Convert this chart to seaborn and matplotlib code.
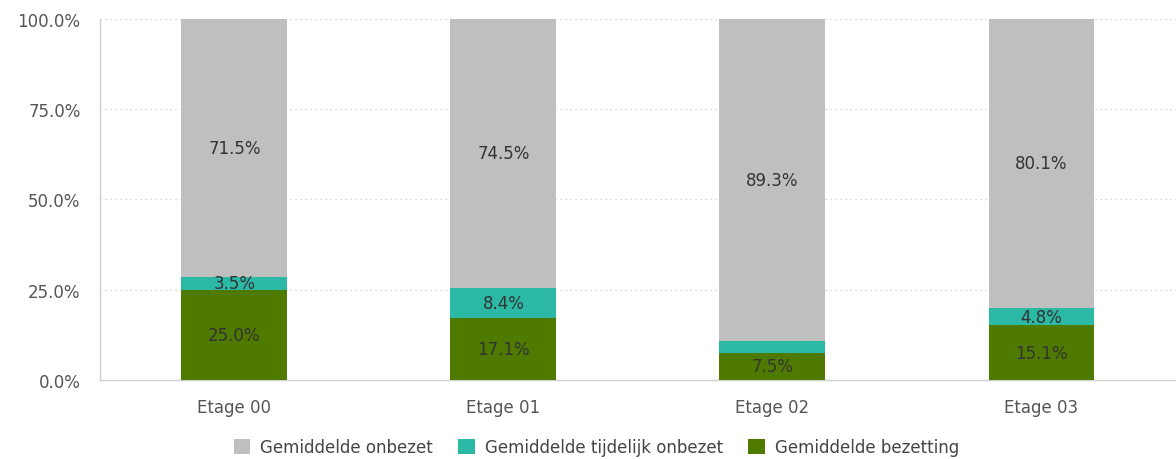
import numpy as np
import pandas as pd
import matplotlib
matplotlib.use("Agg")
import matplotlib.pyplot as plt
import seaborn as sns
from matplotlib.patches import Patch
from matplotlib.ticker import PercentFormatter

# Data
etages = ["Etage 00", "Etage 01", "Etage 02", "Etage 03"]
bezetting = [25.0, 17.1, 7.5, 15.1]
tijdelijk = [3.5, 8.4, 3.2, 4.8]
onbezet = [71.5, 74.5, 89.3, 80.1]

series_names = ["Gemiddelde onbezet", "Gemiddelde tijdelijk onbezet", "Gemiddelde bezetting"]
colors = {"Gemiddelde onbezet": "#BFBFBF",
          "Gemiddelde tijdelijk onbezet": "#2BB8A5",
          "Gemiddelde bezetting": "#4F7A00"}

df = pd.DataFrame({"etage": etages,
                   "Gemiddelde bezetting": bezetting,
                   "Gemiddelde tijdelijk onbezet": tijdelijk,
                   "Gemiddelde onbezet": onbezet})
# cumulative heights, bottom to top
df["cum_bez"] = df["Gemiddelde bezetting"]
df["cum_tij"] = df["cum_bez"] + df["Gemiddelde tijdelijk onbezet"]
df["cum_onb"] = df["cum_tij"] + df["Gemiddelde onbezet"]

sns.set_theme(style="white")
plt.rcParams["font.family"] = ["DejaVu Sans"]

fig = plt.figure(figsize=(11.76, 4.6), dpi=100)
ax = fig.add_axes([0.085, 0.172, 0.915, 0.785])

# draw stacked bars as overlapping cumulative bars (tallest first)
for col, name in [("cum_onb", "Gemiddelde onbezet"),
                  ("cum_tij", "Gemiddelde tijdelijk onbezet"),
                  ("cum_bez", "Gemiddelde bezetting")]:
    sns.barplot(data=df, x="etage", y=col, color=colors[name], width=0.394,
                saturation=1, ax=ax, zorder=3, linewidth=0)

# segment labels
for i, row in df.iterrows():
    segs = [(0, row["Gemiddelde bezetting"]),
            (row["cum_bez"], row["Gemiddelde tijdelijk onbezet"]),
            (row["cum_tij"], row["Gemiddelde onbezet"])]
    for base, val in segs:
        if val < 3.4:
            continue
        ax.text(i, base + val / 2, f"{val:.1f}%", ha="center", va="center",
                fontsize=12, color="#333333", zorder=4)

ax.set_xlim(-0.5, 3.5)
ax.set_ylim(0, 100)
ax.set_yticks([0, 25, 50, 75, 100])
ax.yaxis.set_major_formatter(PercentFormatter(decimals=1))
ax.set_xlabel("")
ax.set_ylabel("")
ax.tick_params(axis="both", length=0, labelsize=12, labelcolor="#555555")
ax.tick_params(axis="x", pad=13)
ax.tick_params(axis="y", pad=14)

for y in [25, 50, 75, 100]:
    ax.axhline(y, color="#CCCCCC", linestyle=(0, (1, 3)), linewidth=0.9, zorder=1)

for side in ["top", "right"]:
    ax.spines[side].set_visible(False)
for side in ["left", "bottom"]:
    ax.spines[side].set_color("#D0D0D0")
    ax.spines[side].set_linewidth(1)

handles = [Patch(facecolor=colors[n], edgecolor="none", label=n) for n in series_names]
fig.legend(handles=handles, loc="center", bbox_to_anchor=(0.507, 0.026), ncol=3,
           frameon=False, handlelength=1.0, handleheight=1.0, handletextpad=0.6,
           columnspacing=1.5, fontsize=12, labelcolor="#444444")

fig.savefig("out.png", dpi=100)
